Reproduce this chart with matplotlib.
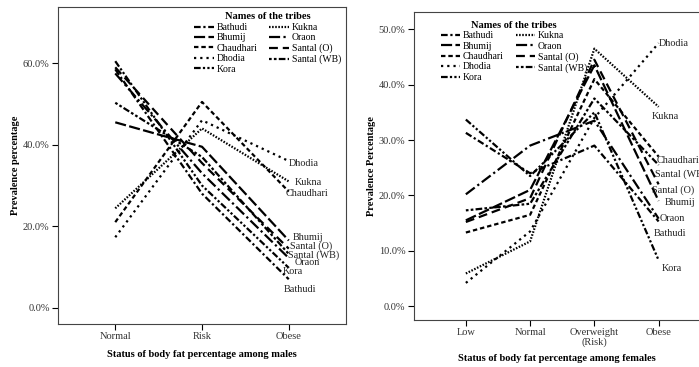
import matplotlib
matplotlib.use("Agg")
import matplotlib.pyplot as plt

plt.rcParams['font.family'] = ['Liberation Serif', 'DejaVu Serif']

tribes = ["Bathudi", "Bhumij", "Chaudhari", "Dhodia", "Kora",
          "Kukna", "Oraon", "Santal (O)", "Santal (WB)"]

# males: Normal, Risk, Obese
male_cats = ["Normal", "Risk", "Obese"]
male_vals = {
    "Bathudi":     [58.5, 28.0, 7.0],
    "Bhumij":      [45.5, 39.5, 16.5],
    "Chaudhari":   [21.0, 50.5, 28.5],
    "Dhodia":      [17.3, 46.0, 36.0],
    "Kora":        [60.5, 30.0, 9.8],
    "Kukna":       [24.4, 44.0, 31.0],
    "Oraon":       [57.5, 33.0, 12.2],
    "Santal (O)":  [59.0, 35.5, 14.5],
    "Santal (WB)": [50.3, 37.0, 13.2],
}

# females: Low, Normal, Overweight (Risk), Obese
female_cats = ["Low", "Normal", "Overweight\n(Risk)", "Obese"]
female_vals = {
    "Bathudi":     [31.3, 24.0, 29.0, 15.3],
    "Bhumij":      [15.5, 21.0, 43.5, 19.0],
    "Chaudhari":   [13.3, 16.5, 41.0, 27.0],
    "Dhodia":      [4.2, 13.5, 34.0, 47.5],
    "Kora":        [33.7, 23.5, 35.0, 8.3],
    "Kukna":       [5.9, 11.7, 46.5, 36.0],
    "Oraon":       [20.2, 29.0, 33.5, 15.8],
    "Santal (O)":  [15.2, 19.5, 44.5, 22.0],
    "Santal (WB)": [17.3, 18.5, 37.5, 25.5],
}

dashes = {
    "Bathudi":     (3, 1.2, 1, 1.2),
    "Bhumij":      (5, 1.5),
    "Chaudhari":   (2, 1.3),
    "Dhodia":      (1, 1.8),
    "Kora":        (3, 1, 1, 1, 1, 1),
    "Kukna":       (0.7, 0.7),
    "Oraon":       (5, 1.5, 1, 1.5),
    "Santal (O)":  (4, 2.2),
    "Santal (WB)": (1.2, 1, 1.2, 1, 3, 1),
}

# label offsets in pixels from end point
male_lab = {
    "Dhodia": (0, -2), "Kukna": (6, -1), "Chaudhari": (-3, -2),
    "Bhumij": (4, 3), "Santal (O)": (1, 2), "Santal (WB)": (-1, -1),
    "Oraon": (6, -4), "Kora": (-6, -4), "Bathudi": (-5, -10),
}
female_lab = {
    "Dhodia": (0, 0), "Kukna": (-7, -10), "Chaudhari": (-2, -4),
    "Santal (WB)": (-4, -9), "Santal (O)": (-7, -6), "Bhumij": (6, -2),
    "Oraon": (1, 0), "Bathudi": (-5, -12), "Kora": (3, -8),
}

fig = plt.figure(figsize=(6.99, 3.67), dpi=100)
ax1 = fig.add_axes([0.083, 0.117, 0.412, 0.864])
ax2 = fig.add_axes([0.592, 0.128, 0.41, 0.839])


def draw(ax, cats, vals, labs, ylim, yticks, xlim, ylabel, xlabel, leg_anchor, xpad):
    x = list(range(len(cats)))
    for t in tribes:
        ax.plot(x, vals[t], color="black", lw=1.6, dashes=dashes[t], label=t)
        dx, dy = labs[t]
        ax.annotate(t, (x[-1], vals[t][-1]), xytext=(dx, dy),
                    textcoords="offset pixels", fontsize=7.3,
                    ha="left", va="center", color="#222222")
    ax.set_xlim(*xlim)
    ax.set_ylim(*ylim)
    ax.set_xticks(x)
    ax.set_xticklabels(cats, fontsize=7.5, color="#333333", linespacing=1.0)
    ax.set_yticks(yticks)
    ax.set_yticklabels([f"{v:.1f}%" for v in yticks], fontsize=7.5, color="#333333")
    ax.tick_params(length=4, width=0.8, pad=2)
    ax.set_ylabel(ylabel, fontsize=7.5, fontweight="bold", labelpad=2)
    ax.set_xlabel(xlabel, fontsize=7.5, fontweight="bold", labelpad=xpad)
    for s in ax.spines.values():
        s.set_linewidth(0.8)
        s.set_color("#444444")
    leg = ax.legend(ncol=2, frameon=False, title="Names of the tribes",
                    loc="upper left", bbox_to_anchor=leg_anchor,
                    fontsize=7, handlelength=2.0, handletextpad=0.3,
                    columnspacing=1.2, labelspacing=0.15, borderaxespad=0)
    leg.get_title().set_fontweight("bold")
    leg.get_title().set_fontsize(7.5)


draw(ax1, male_cats, male_vals, male_lab, (-4, 73.8), [0, 20, 40, 60],
     (-0.66, 2.66), "Prevalence percentage",
     "Status of body fat percentage among males", (0.46, 0.995), 6)
draw(ax2, female_cats, female_vals, female_lab, (-2.5, 53.1),
     [0, 10, 20, 30, 40, 50], (-0.81, 3.65), "Prevalence Percentage",
     "Status of body fat percentage among females", (0.08, 0.985), 5)

fig.savefig("out.png", dpi=100)
